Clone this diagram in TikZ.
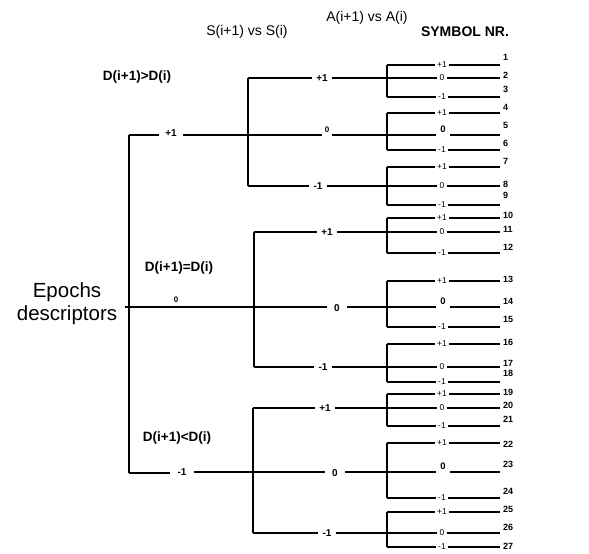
\documentclass[tikz,border=0pt]{standalone}
\usepackage{fontspec}
\setmainfont{Liberation Sans}
\tikzset{
  tree/.style={line width=1.7pt},
  lab1/.style={font=\fontsize{10}{12}\selectfont\bfseries, inner sep=4pt},
  lab1z/.style={font=\fontsize{8}{10}\selectfont\bfseries, inner sep=3pt},
  lab3/.style={font=\fontsize{8.5}{10}\selectfont, inner sep=2pt},
  lab3z/.style={font=\fontsize{9.5}{11}\selectfont\bfseries, inner sep=4pt},
  num/.style={font=\fontsize{9}{11}\selectfont\bfseries, anchor=west, inner sep=0pt},
  head/.style={font=\fontsize{14}{16}\selectfont, inner sep=0pt},
  cond/.style={font=\fontsize{13.5}{16}\selectfont\bfseries, inner sep=0pt},
}
% leaf: name, y, label, number, number y
\newcommand\leaf[5]{%
  \coordinate (j#1) at (387,#2);
  \node[lab3] (t#1) at (442,#2) {#3};
  \coordinate (e#1) at (500,#2);
  \node[num] (n#1) at (503,#5) {#4};
  \draw[tree] (j#1) -- (t#1.west) (t#1.east) -- (e#1);
}
\newcommand\leafz[5]{%
  \coordinate (j#1) at (387,#2);
  \node[lab3z] (t#1) at (443,#2-6) {#3};
  \coordinate (e#1) at (500,#2);
  \node[num] (n#1) at (503,#5) {#4};
  \draw[tree] (j#1) -- (j#1 -| t#1.west) (j#1 -| t#1.east) -- (e#1);
}
\begin{document}
\begin{tikzpicture}[x=1pt,y=-1pt]
\useasboundingbox (0,0) rectangle (589,554);

% headers
\node[head] (hs) at (247,32) {S(i+1) vs S(i)};
\node[head] (ha) at (367,18) {A(i+1) vs A(i)};
\node[head,font=\fontsize{14}{16}\selectfont\bfseries] (hn) at (465,32) {SYMBOL NR.};

% conditions
\node[cond] (c1) at (137,77) {D(i+1)>D(i)};
\node[cond] (c2) at (179,268) {D(i+1)=D(i)};
\node[cond] (c3) at (177,438) {D(i+1)<D(i)};

% root
\node[font=\fontsize{20.5}{23}\selectfont, align=center, inner sep=0pt] (root) at (67,304) {Epochs\\descriptors};

% leaves
\leaf{1}{65}{+1}{1}{57}
\leaf{2}{78}{0}{2}{75}
\leaf{3}{97}{-1}{3}{89}
\leaf{4}{113}{+1}{4}{107}
\leafz{5}{135}{0}{5}{125}
\leaf{6}{150}{-1}{6}{143}
\leaf{7}{167}{+1}{7}{161}
\leaf{8}{186}{0}{8}{184}
\leaf{9}{205}{-1}{9}{195}
\leaf{10}{218}{+1}{10}{215}
\leaf{11}{232}{0}{11}{229}
\leaf{12}{253}{-1}{12}{247}
\leaf{13}{281}{+1}{13}{279}
\leafz{14}{307}{0}{14}{301}
\leaf{15}{327}{-1}{15}{319}
\leaf{16}{344}{+1}{16}{342}
\leaf{17}{367}{0}{17}{363}
\leaf{18}{382}{-1}{18}{373}
\leaf{19}{394}{+1}{19}{392}
\leaf{20}{408}{0}{20}{405}
\leaf{21}{426}{-1}{21}{419}
\leaf{22}{443}{+1}{22}{444}
\leafz{23}{472}{0}{23}{464}
\leaf{24}{498}{-1}{24}{491}
\leaf{25}{512}{+1}{25}{509}
\leaf{26}{533}{0}{26}{527}
\leaf{27}{547}{-1}{27}{546}

% group verticals
\draw[tree] (j1) -- (j3);
\draw[tree] (j4) -- (j6);
\draw[tree] (j7) -- (j9);
\draw[tree] (j10) -- (j12);
\draw[tree] (j13) -- (j15);
\draw[tree] (j16) -- (j18);
\draw[tree] (j19) -- (j21);
\draw[tree] (j22) -- (j24);
\draw[tree] (j25) -- (j27);

% level 2: top
\coordinate (s1) at (248,135);
\coordinate (s1t) at (248,78);
\coordinate (s1b) at (248,186);
\draw[tree] (s1t) -- (s1b);
\node[lab1] (s1p) at (322,78) {+1};
\node[lab1z] (s1z) at (327,130) {0};
\node[lab1] (s1m) at (318,186) {-1};
\draw[tree] (s1t) -- (s1p.west) (s1p.east) -- (j2);
\draw[tree] (s1) -- (s1 -| s1z.west) (s1 -| s1z.east) -- (j5);
\draw[tree] (s1b) -- (s1m.west) (s1m.east) -- (j8);

% level 2: middle
\coordinate (s2) at (254,307);
\coordinate (s2t) at (254,232);
\coordinate (s2b) at (254,367);
\draw[tree] (s2t) -- (s2b);
\node[lab1] (s2p) at (327,232) {+1};
\node[lab1,inner sep=7pt] (s2z) at (337,308) {0};
\node[lab1] (s2m) at (323,367) {-1};
\draw[tree] (s2t) -- (s2p.west) (s2p.east) -- (j11);
\draw[tree] (s2) -- (s2 -| s2z.west) (s2 -| s2z.east) -- (j14);
\draw[tree] (s2b) -- (s2m.west) (s2m.east) -- (j17);

% level 2: bottom
\coordinate (s3) at (253,472);
\coordinate (s3t) at (253,408);
\coordinate (s3b) at (253,533);
\draw[tree] (s3t) -- (s3b);
\node[lab1] (s3p) at (325,408) {+1};
\node[lab1,inner sep=7pt] (s3z) at (335,473) {0};
\node[lab1] (s3m) at (327,533) {-1};
\draw[tree] (s3t) -- (s3p.west) (s3p.east) -- (j20);
\draw[tree] (s3) -- (s3 -| s3z.west) (s3 -| s3z.east) -- (j23);
\draw[tree] (s3b) -- (s3m.west) (s3m.east) -- (j26);

% level 1
\coordinate (rt) at (129,135);
\coordinate (rb) at (129,473);
\coordinate (r0) at (125,307);
\draw[tree] (rt) -- (rb);
\node[lab1,inner sep=6pt] (d1) at (171,133) {+1};
\node[lab1z] (d0) at (176,300) {0};
\node[lab1,inner sep=7pt] (d2) at (182,472) {-1};
\draw[tree] (rt) -- (rt -| d1.west) (d1.east |- s1) -- (s1);
\draw[tree] (r0) -- (s2);
\draw[tree] (rb) -- (rb -| d2.west) (d2.east |- s3) -- (s3);
\end{tikzpicture}
\end{document}
